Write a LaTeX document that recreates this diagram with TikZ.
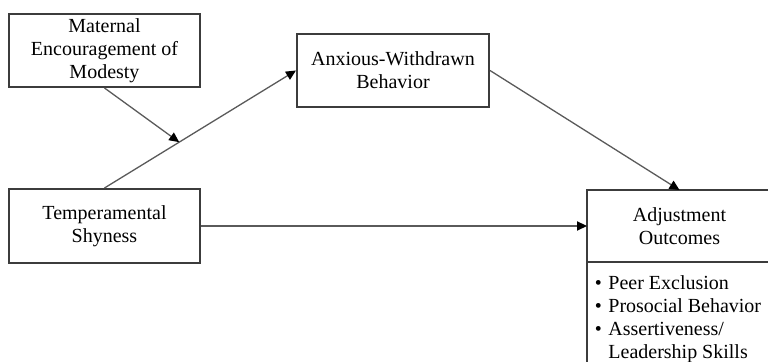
\documentclass[tikz,border=0pt]{standalone}
\usepackage{fontspec}
\setmainfont{Liberation Serif}
\usetikzlibrary{arrows.meta}
\definecolor{boxgray}{HTML}{3C3C3C}
\definecolor{linegray}{HTML}{5A5A5A}

\begin{document}
\begin{tikzpicture}[x=0.5pt, y=-0.5pt,
    box/.style={draw=boxgray, line width=1pt, align=center, inner sep=2pt,
      font=\fontsize{10}{11.6}\selectfont},
    link/.style={draw=linegray, line width=0.65pt,
      -{Triangle[length=5pt, width=4.6pt, color=black]}}]
      \useasboundingbox (0,0) rectangle (768,362);
      \clip (0,0) rectangle (768,362);

      \node[box, minimum width=95.5pt, minimum height=36.5pt] (modesty) at (104.5,50.5) {Maternal\\Encouragement of\\Modesty};
      \node[box, minimum width=96pt, minimum height=36.5pt] (anxious) at (393,70.5) {Anxious-Withdrawn\\Behavior};
      \node[box, minimum width=95.5pt, minimum height=37pt] (shyness) at (104.5,226) {Temperamental\\Shyness};
      \node[box, minimum width=92.5pt, minimum height=36pt, outer sep=0pt] (adjust) at (679.5,226) {Adjustment\\Outcomes};
      \node[box, anchor=north, align=left, inner xsep=4pt, inner ysep=5.5pt, outer sep=0pt, minimum width=92.5pt] (outcomes) at (adjust.south)
        {\parbox[t][62pt][t]{84.5pt}{\begin{tabular}[t]{@{}l@{\hspace{3.2pt}}l@{}}
          \textbullet & Peer Exclusion\\
          \textbullet & Prosocial Behavior\\
          \textbullet & Assertiveness/\\
                      & Leadership Skills
        \end{tabular}}};

      \draw[link] (shyness.north) -- coordinate[pos=0.39] (moderate) (anxious.west);
      \draw[link] (modesty.south) -- (moderate);
      \draw[link] (anxious.east) -- (adjust.north);
      \draw[link] (shyness.east) -- (adjust.west);
\end{tikzpicture}
\end{document}
